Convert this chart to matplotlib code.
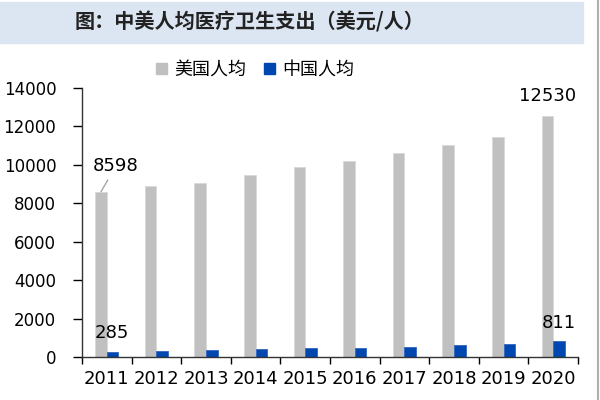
import numpy as np
import matplotlib
matplotlib.use("Agg")
import matplotlib.pyplot as plt
from matplotlib.patches import Rectangle, Patch
from matplotlib.lines import Line2D

years = ["2011", "2012", "2013", "2014", "2015", "2016", "2017", "2018", "2019", "2020"]
us = [8598, 8900, 9070, 9450, 9900, 10220, 10620, 11050, 11470, 12530]
cn = [285, 320, 350, 400, 450, 485, 535, 610, 690, 811]
yticks = [0, 2000, 4000, 6000, 8000, 10000, 12000, 14000]

gray = "#c0c0c0"
blue = "#0047b0"
cjk = ["Noto Sans CJK SC", "DejaVu Sans"]

fig = plt.figure(figsize=(6, 4), dpi=100)
ax = fig.add_axes([82 / 600, 43 / 400, 496 / 600, 269 / 400])

# title banner + right border
fig.patches.append(Rectangle((0, 1 - 43 / 400), 583 / 600, 41 / 400,
                             transform=fig.transFigure, color="#dce6f2", zorder=0))
fig.lines.append(Line2D([598 / 600, 598 / 600], [0, 1], transform=fig.transFigure,
                        color="#b0b0b0", lw=1.5))
fig.text(250 / 600, 1 - 22 / 400, "图：中美人均医疗卫生支出（美元/人）",
         family=cjk, fontsize=14.5, fontweight="bold", color="#222222",
         ha="center", va="center")

x = np.arange(len(years))
w = 0.235
ax.bar(x - w / 2, us, w, color=gray, edgecolor="#d9d9d9", linewidth=0.6, zorder=2)
ax.bar(x + w / 2, cn, w, color=blue, edgecolor="#3366c0", linewidth=0.6, zorder=2)

ax.set_xlim(-0.5, len(years) - 0.5)
ax.set_ylim(0, 14000)
ax.set_yticks(yticks)
ax.tick_params(axis="y", labelsize=12, length=6.5, direction="out", width=1, pad=12)
ax.set_xticks(np.arange(len(years) + 1) - 0.5)
ax.set_xticklabels([])
ax.set_xticks(x, minor=True)
ax.set_xticklabels(years, minor=True, fontsize=13)
ax.tick_params(axis="x", which="major", length=5, direction="out", width=1)
ax.tick_params(axis="x", which="minor", length=0, pad=9)
for s in ["top", "right"]:
    ax.spines[s].set_visible(False)
for s in ["left", "bottom"]:
    ax.spines[s].set_color("#333333")
    ax.spines[s].set_linewidth(1)

px = 0.72  # points per pixel
ax.annotate(str(us[0]), xy=(x[0] - w / 2, us[0]), xytext=(15 * px, 26 * px),
            textcoords="offset points", ha="center", va="center", fontsize=13,
            arrowprops=dict(arrowstyle="-", color="#a6a6a6", lw=1, shrinkA=2, shrinkB=0))
ax.annotate(str(cn[0]), xy=(x[0] + w / 2, cn[0]), xytext=(-1 * px, 19 * px),
            textcoords="offset points", ha="center", va="center", fontsize=13)
ax.annotate(str(us[-1]), xy=(x[-1] - w / 2, us[-1]), xytext=(0, 20 * px),
            textcoords="offset points", ha="center", va="center", fontsize=13)
ax.annotate(str(cn[-1]), xy=(x[-1] + w / 2, cn[-1]), xytext=(0, 18 * px),
            textcoords="offset points", ha="center", va="center", fontsize=13)

handles = [Patch(color=gray, label="美国人均"), Patch(color=blue, label="中国人均")]
fig.legend(handles=handles, loc="center", bbox_to_anchor=(255 / 600, 1 - 70 / 400),
           ncol=2, frameon=False, prop={"family": cjk, "size": 13},
           handlelength=0.6, handleheight=0.6, handletextpad=0.4, columnspacing=1.0)

fig.savefig("out.png", dpi=100)
